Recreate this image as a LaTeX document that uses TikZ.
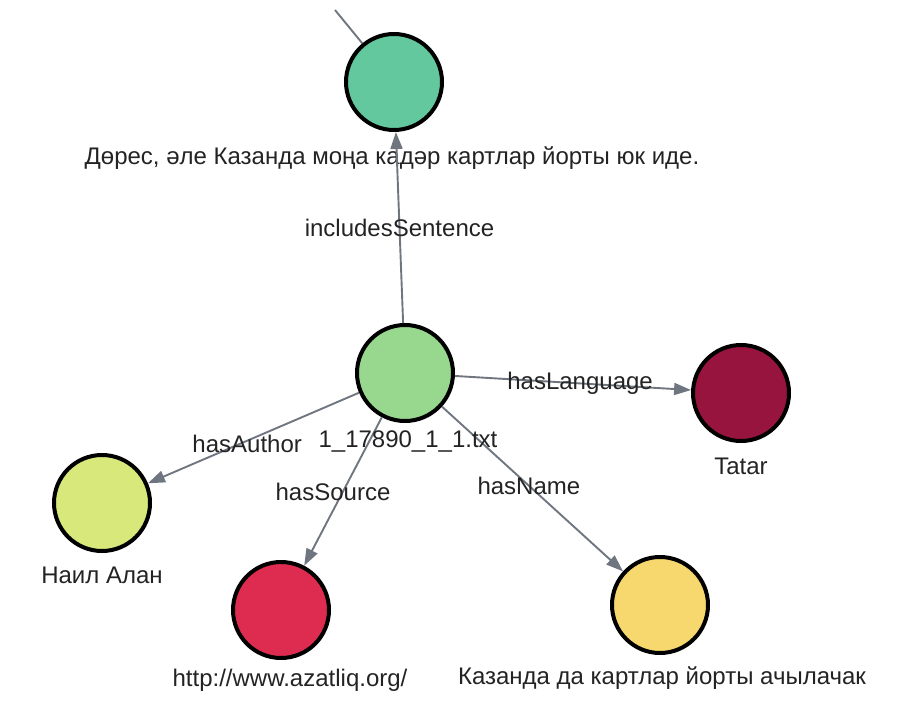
\documentclass[tikz,border=0pt]{standalone}
\usepackage{fontspec}
\setmainfont{Liberation Sans}
\usepackage{tikz}
\usetikzlibrary{arrows.meta, positioning}

\definecolor{sentgreen}{RGB}{100, 200, 158}
\definecolor{docgreen}{RGB}{152, 216, 142}
\definecolor{langred}{RGB}{150, 20, 62}
\definecolor{authlime}{RGB}{216, 232, 122}
\definecolor{srcred}{RGB}{222, 44, 80}
\definecolor{nameyellow}{RGB}{247, 216, 110}
\definecolor{edgegray}{RGB}{112, 118, 128}
\definecolor{txtgray}{RGB}{35, 35, 35}

\begin{document}
\begin{tikzpicture}[x=1pt, y=-1pt,
    vertex/.style={circle, draw=black, line width=4pt, minimum size=96pt, inner sep=0pt},
    rel/.style={-{Triangle[length=17pt, width=12pt]}, line width=1.9pt, draw=edgegray},
    elbl/.style={font=\fontsize{24}{28}\selectfont, text=txtgray, inner sep=0pt},
    lbl/.style={font=\fontsize{24}{28}\selectfont, text=txtgray, inner sep=0pt}]
  \useasboundingbox (0,0) rectangle (903,714);

  % Sentence node
  \node[vertex, fill=sentgreen] (sent) at (394, 82) {};
  \node[lbl] (sentlbl) at (392, 158) {Дөрес, әле Казанда моңа кадәр картлар йорты юк иде.};
  \coordinate (offtop) at (335, 10);
  \draw[line width=1.9pt, edgegray] (offtop) -- (sent);

  % Document
  \node[vertex, fill=docgreen] (doc) at (405, 373) {};
  \draw[rel] (doc) -- node[elbl, pos=0.5] {includesSentence} (sent);

  % Language
  \node[vertex, fill=langred] (lang) at (741, 393) {};
  \node[lbl] (langlbl) at (741, 466) {Tatar};
  \draw[rel] (doc) -- node[elbl, pos=0.53] {hasLanguage} (lang);

  % Author
  \node[vertex, fill=authlime] (auth) at (102, 503) {};
  \node[lbl] (authlbl) at (102, 575) {Наил Алан};
  \draw[rel] (doc) -- node[elbl, pos=0.53, yshift=-3pt] {hasAuthor} (auth);

  % Source
  \node[vertex, fill=srcred] (src) at (281, 610) {};
  \node[lbl] (srclbl) at (290, 680) {http://www.azatliq.org/};
  \draw[rel] (doc) -- node[elbl, pos=0.5, xshift=-10pt] {hasSource} (src);

  % Name
  \node[vertex, fill=nameyellow] (name) at (660, 605) {};
  \node[lbl] (namelbl) at (662, 678) {Казанда да картлар йорты ачылачак};
  \draw[rel] (doc) -- node[elbl, pos=0.48] {hasName} (name);

  % Document label on top of the edges
  \node[lbl] (doclbl) at (408, 442) {1\_17890\_1\_1.txt};
\end{tikzpicture}
\end{document}
